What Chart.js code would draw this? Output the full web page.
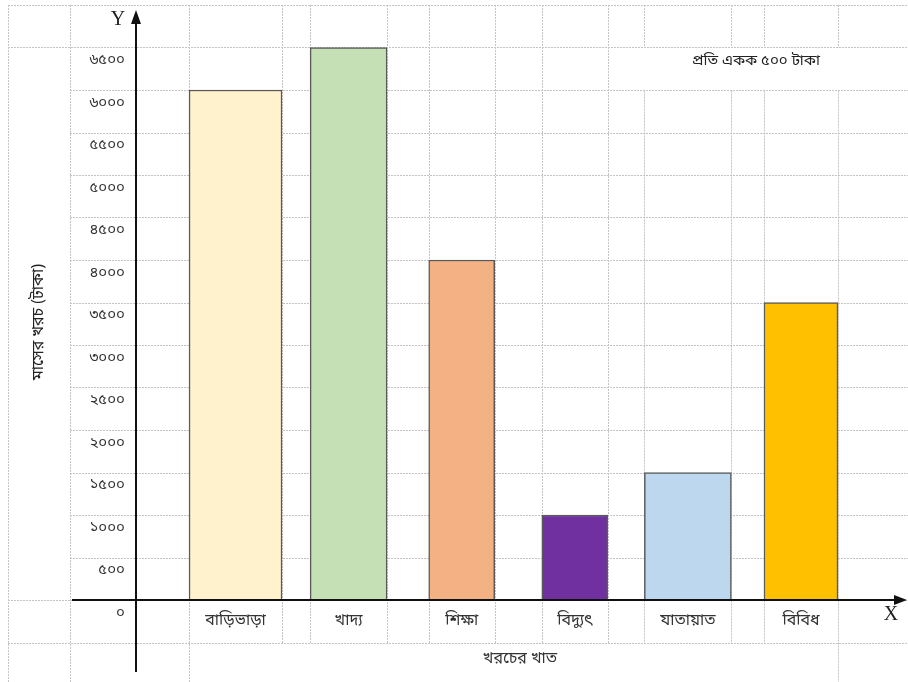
<!DOCTYPE html>
<html lang="bn">
<head>
<meta charset="UTF-8">
<title>মাসের খরচ</title>
<script src="https://cdn.jsdelivr.net/npm/chart.js@4.4.0/dist/chart.umd.min.js"></script>
<style>
  body { margin: 0; background: #fff; }
</style>
</head>
<body>
<canvas id="chart" width="908" height="682"></canvas>
<script>
const categories = ['বাড়িভাড়া', 'খাদ্য', 'শিক্ষা', 'বিদ্যুৎ', 'যাতায়াত', 'বিবিধ'];
const expenses = [6000, 6500, 4000, 1000, 1500, 3500];
const yTickLabels = ['০', '৫০০', '১০০০', '১৫০০', '২০০০', '২৫০০', '৩০০০', '৩৫০০',
                     '৪০০০', '৪৫০০', '৫০০০', '৫৫০০', '৬০০০', '৬৫০০'];
const barColors = ['#FFF2CC', '#C5E0B4', '#F4B183', '#7030A0', '#BDD7EE', '#FFC000'];
const barWidths = [93, 77, 66, 66, 87, 74];

const BN = "'Noto Sans Bengali', 'Noto Sans', sans-serif";

// spreadsheet style dotted grid behind the bars
const sheetGrid = {
    id: 'sheetGrid',
    beforeDatasetsDraw(chart) {
        const { ctx, scales: { y } } = chart;
        const edges = [];
        chart.data.datasets.forEach((d, i) => {
            const bar = chart.getDatasetMeta(i).data[0];
            const p = bar.getProps(['x', 'width'], true);
            edges.push(Math.round(p.x - p.width / 2), Math.round(p.x + p.width / 2));
        });
        const py = v => Math.round(y.getPixelForValue(v)) + 0.5;

        ctx.save();
        ctx.strokeStyle = '#c4c4c4';
        ctx.lineWidth = 1;
        ctx.setLineDash([2, 1]);

        for (let v = -500; v <= 7000; v += 500) {
            const x0 = (v > 0 && v < 6500) ? 70 : 8;
            ctx.beginPath();
            ctx.moveTo(x0, py(v));
            ctx.lineTo(908, py(v));
            ctx.stroke();
        }

        const fullCols = [8, 70, edges[0], edges[11]];
        [8, 70, ...edges].forEach(x => {
            const px = x + 0.5;
            const bottom = fullCols.includes(x) ? 682 : py(-500);
            ctx.beginPath();
            if (x > edges[7]) {
                ctx.moveTo(px, 5); ctx.lineTo(px, py(6500));
                ctx.moveTo(px, py(6000)); ctx.lineTo(px, bottom);
            } else {
                ctx.moveTo(px, 5); ctx.lineTo(px, bottom);
            }
            ctx.stroke();
        });
        ctx.restore();
    },
    afterDatasetsDraw(chart) {
        const { ctx, chartArea, scales: { y } } = chart;
        const y0 = y.getPixelForValue(0);
        const ax = chartArea.left + 1;
        ctx.save();
        ctx.strokeStyle = '#111';
        ctx.fillStyle = '#111';
        ctx.lineWidth = 2;

        // x axis with arrow
        ctx.beginPath();
        ctx.moveTo(72, y0);
        ctx.lineTo(896, y0);
        ctx.stroke();
        ctx.beginPath();
        ctx.moveTo(907, y0);
        ctx.lineTo(894, y0 - 5);
        ctx.lineTo(894, y0 + 5);
        ctx.closePath();
        ctx.fill();

        // y axis with arrow
        ctx.beginPath();
        ctx.moveTo(ax, 672);
        ctx.lineTo(ax, 22);
        ctx.stroke();
        ctx.beginPath();
        ctx.moveTo(ax, 10);
        ctx.lineTo(ax - 5, 24);
        ctx.lineTo(ax + 5, 24);
        ctx.closePath();
        ctx.fill();

        ctx.fillStyle = '#222';
        ctx.font = "20px 'Liberation Serif', serif";
        ctx.textAlign = 'center';
        ctx.textBaseline = 'middle';
        ctx.fillText('Y', 118, 20);
        ctx.fillText('X', 891, 615);

        ctx.font = '15px ' + BN;
        ctx.fillText('প্রতি একক ৫০০ টাকা', 756, 62);

        ctx.translate(40, 322);
        ctx.rotate(-Math.PI / 2);
        ctx.font = '16px ' + BN;
        ctx.fillText('মাসের খরচ (টাকা)', 0, 0);
        ctx.restore();
    }
};

new Chart(document.getElementById('chart'), {
    type: 'bar',
    data: {
        datasets: categories.map((c, i) => ({
            label: c,
            data: [{ x: i, y: expenses[i] }],
            backgroundColor: barColors[i],
            borderColor: '#5a5a5a',
            borderWidth: 1.5,
            barThickness: barWidths[i],
            grouped: false
        }))
    },
    options: {
        responsive: false,
        animation: false,
        devicePixelRatio: 1,
        layout: { padding: { top: 5, right: 3, left: 0, bottom: 0 } },
        plugins: {
            legend: { display: false },
            tooltip: { enabled: false }
        },
        scales: {
            x: {
                type: 'linear',
                offset: false,
                min: -0.889,
                max: 5.92,
                grid: { display: false, drawTicks: false },
                border: { display: false },
                afterBuildTicks: s => { s.ticks = categories.map((c, i) => ({ value: i })); },
                afterFit: s => { s.height = 82; s.paddingLeft = 0; s.paddingRight = 0; },
                ticks: {
                    autoSkip: false,
                    maxRotation: 0,
                    padding: 12,
                    color: '#333',
                    font: { family: BN, size: 16 },
                    callback: v => categories[v] ?? ''
                },
                title: {
                    display: true,
                    text: 'খরচের খাত',
                    color: '#333',
                    font: { family: BN, size: 16 },
                    padding: { top: 0, bottom: 12 }
                }
            },
            y: {
                min: 0,
                max: 7000,
                grid: { display: false, drawTicks: false },
                border: { display: false },
                afterFit: s => { s.width = 135; s.paddingTop = 0; s.paddingBottom = 0; },
                ticks: {
                    stepSize: 500,
                    padding: 10,
                    labelOffset: 14,
                    color: '#333',
                    font: { family: BN, size: 15 },
                    callback: (v, i) => yTickLabels[i] ?? ''
                }
            }
        }
    },
    plugins: [sheetGrid]
});
</script>
</body>
</html>
